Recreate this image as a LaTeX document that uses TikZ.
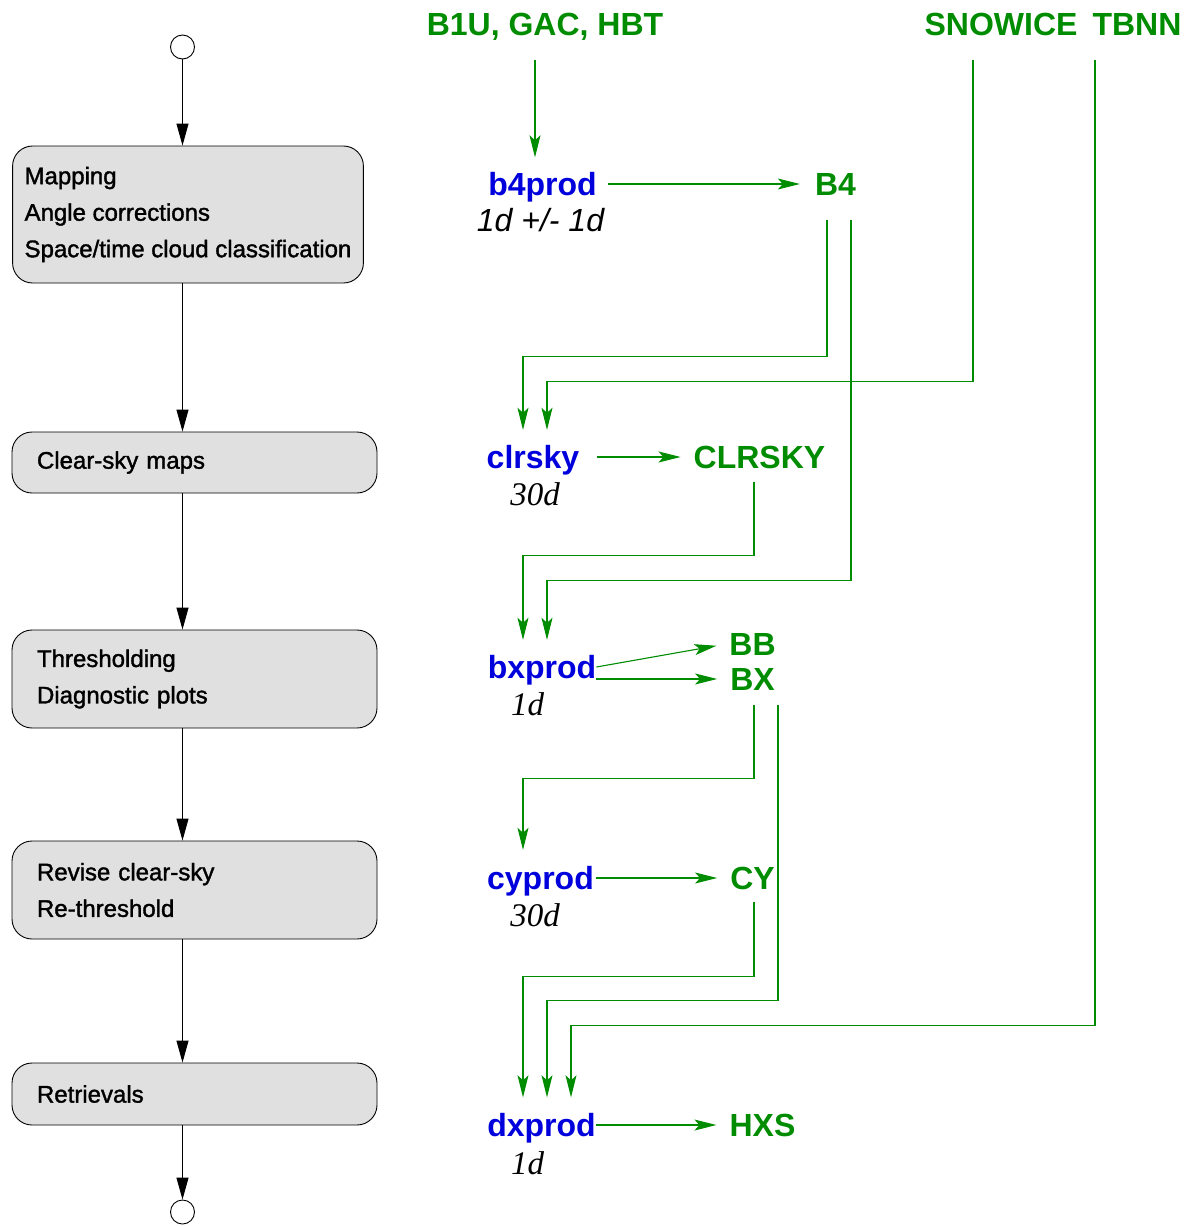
\documentclass[tikz,border=0pt]{standalone}
\usepackage{fontspec}
\setmainfont{Liberation Sans}
\newfontfamily\timesfont{Liberation Serif}
\newfontfamily\stagefont[FakeBold=1.5]{Liberation Sans}
\usetikzlibrary{arrows.meta,positioning,calc}
\definecolor{dgreen}{RGB}{0,140,0}
\definecolor{dblue}{RGB}{0,0,220}
\definecolor{boxgray}{RGB}{224,224,224}
\tikzset{
  stage/.style={draw=black, line width=0.9pt, fill=boxgray, rounded corners=20pt, align=left,
    inner ysep=0pt, font=\stagefont\fontsize{24}{36.5}\selectfont},
  wide/.style={text width=315pt, inner xsep=25pt},
  endpt/.style={circle, draw, line width=0.9pt, fill=white, minimum size=24pt, inner sep=0pt},
  prog/.style={inner sep=0pt, text height=23pt, text depth=0pt, text=dblue,
    font=\fontsize{32}{38}\selectfont\bfseries},
  file/.style={prog, text=dgreen},
  period/.style={inner sep=0pt, text height=23pt, text depth=0pt, font=\fontsize{32}{38}\selectfont\itshape},
  tperiod/.style={period, text height=22pt, font=\timesfont\fontsize{33}{38}\selectfont\itshape},
  flow/.style={line width=1pt, -{Triangle[length=22pt,width=12pt]}},
  feed/.style={dgreen, line width=1.1pt, -{Stealth[length=22pt,width=11pt,inset=5pt]}}
}

\begin{document}
\begin{tikzpicture}[x=1pt, y=-1pt]
\useasboundingbox (0,0) rectangle (1190,1226);

% processing stages
\node[endpt] (start) at (182.5,47) {};
\node[stage, inner xsep=12pt, minimum height=137pt] (map) at (188,214.5)
  {Mapping\\Angle corrections\\Space/time cloud classification};
\node[stage, wide, minimum height=61pt] (clear) at (194.5,462.5) {Clear-sky maps};
\node[stage, wide, minimum height=98pt] (thresh) at (194.5,679) {Thresholding\\Diagnostic plots};
\node[stage, wide, minimum height=98pt] (revise) at (194.5,890) {Revise clear-sky\\Re-threshold};
\node[stage, wide, minimum height=62pt] (retr) at (194.5,1094) {Retrievals};
\node[endpt] (stop) at (182.5,1212) {};

\draw[flow] (start.south) -- (start |- map.north);
\foreach \a/\b in {map/clear,clear/thresh,thresh/revise,revise/retr}
  \draw[flow] (start |- \a.south) -- (start |- \b.north);
\draw[flow] (start |- retr.south) -- (stop.north);

% programs and their files
\node[file] (b1u) at (545,23.5) {B1U, GAC, HBT};
\node[file] (snowice) at (1001,23.5) {SNOWICE};
\node[file] (tbnn) at (1137,23.5) {TBNN};

\node[prog] (b4prod) at (542.5,184) {b4prod};
\node[period] (b4per) at (540.5,220) {1d +/- 1d};
\node[file] (B4) at (835.5,184) {B4};

\node[prog] (clrsky) at (533,457) {clrsky};
\node[tperiod] (clrper) at (535,494) {30d};
\node[file] (CLRSKY) at (759.5,457) {CLRSKY};

\node[prog] (bxprod) at (542,667) {bxprod};
\node[tperiod] (bxper) at (527.5,704) {1d};
\node[file] (BB) at (752.5,643.5) {BB};
\node[file] (BX) at (752.5,679) {BX};

\node[prog] (cyprod) at (540.5,878) {cyprod};
\node[tperiod] (cyper) at (535,915) {30d};
\node[file] (CY) at (752.5,878) {CY};

\node[prog] (dxprod) at (541.5,1125) {dxprod};
\node[tperiod] (dxper) at (527.5,1163.5) {1d};
\node[file] (HXS) at (762.5,1125) {HXS};

% outputs
\draw[feed] ($(b1u.south)+(-10,25)$) -- ($(b4prod.north)+(-7.5,-15)$);
\draw[feed, shorten <=11pt, shorten >=15pt] (b4prod) -- (B4);
\draw[feed, shorten <=18pt, shorten >=13pt] (clrsky) -- (CLRSKY);
\draw[feed, shorten >=13pt] (bxprod.east) -- (BB.west);
\draw[feed, shorten >=13pt] ($(bxprod.east)+(0,12)$) -- (BX.west);
\draw[feed, shorten <=2pt, shorten >=13pt] (cyprod) -- (CY);
\draw[feed, shorten >=13pt] (dxprod.east) -- (HXS.west);

% inputs
\draw[feed] ($(B4.south)+(-8.5,24.5)$) -- ++(0,136) -| ($(clrsky.north)+(-10,-15.5)$);
\draw[feed] ($(snowice.south)+(-28,25)$) -- ++(0,321) -| ($(clrsky.north)+(14,-15.5)$);
\draw[feed] ($(B4.south)+(15.5,24.5)$) -- ++(0,360) -| ($(bxprod.north)+(5,-15.5)$);
\draw[feed] ($(CLRSKY.south)+(-5.5,13.5)$) -- ++(0,73) -| ($(bxprod.north)+(-19,-15.5)$);
\draw[feed] ($(BX.south)+(1.5,14.5)$) -- ++(0,73) -| ($(cyprod.north)+(-17.5,-16.5)$);
\draw[feed] ($(BX.south)+(25.5,14.5)$) -- ++(0,295) -| ($(dxprod.north)+(5.5,-16)$);
\draw[feed] ($(CY.south)+(1.5,12.5)$) -- ++(0,74) -| ($(dxprod.north)+(-18.5,-16)$);
\draw[feed] ($(tbnn.south)+(-42,25)$) -- ++(0,965) -| ($(dxprod.north)+(29.5,-16)$);
\end{tikzpicture}
\end{document}
